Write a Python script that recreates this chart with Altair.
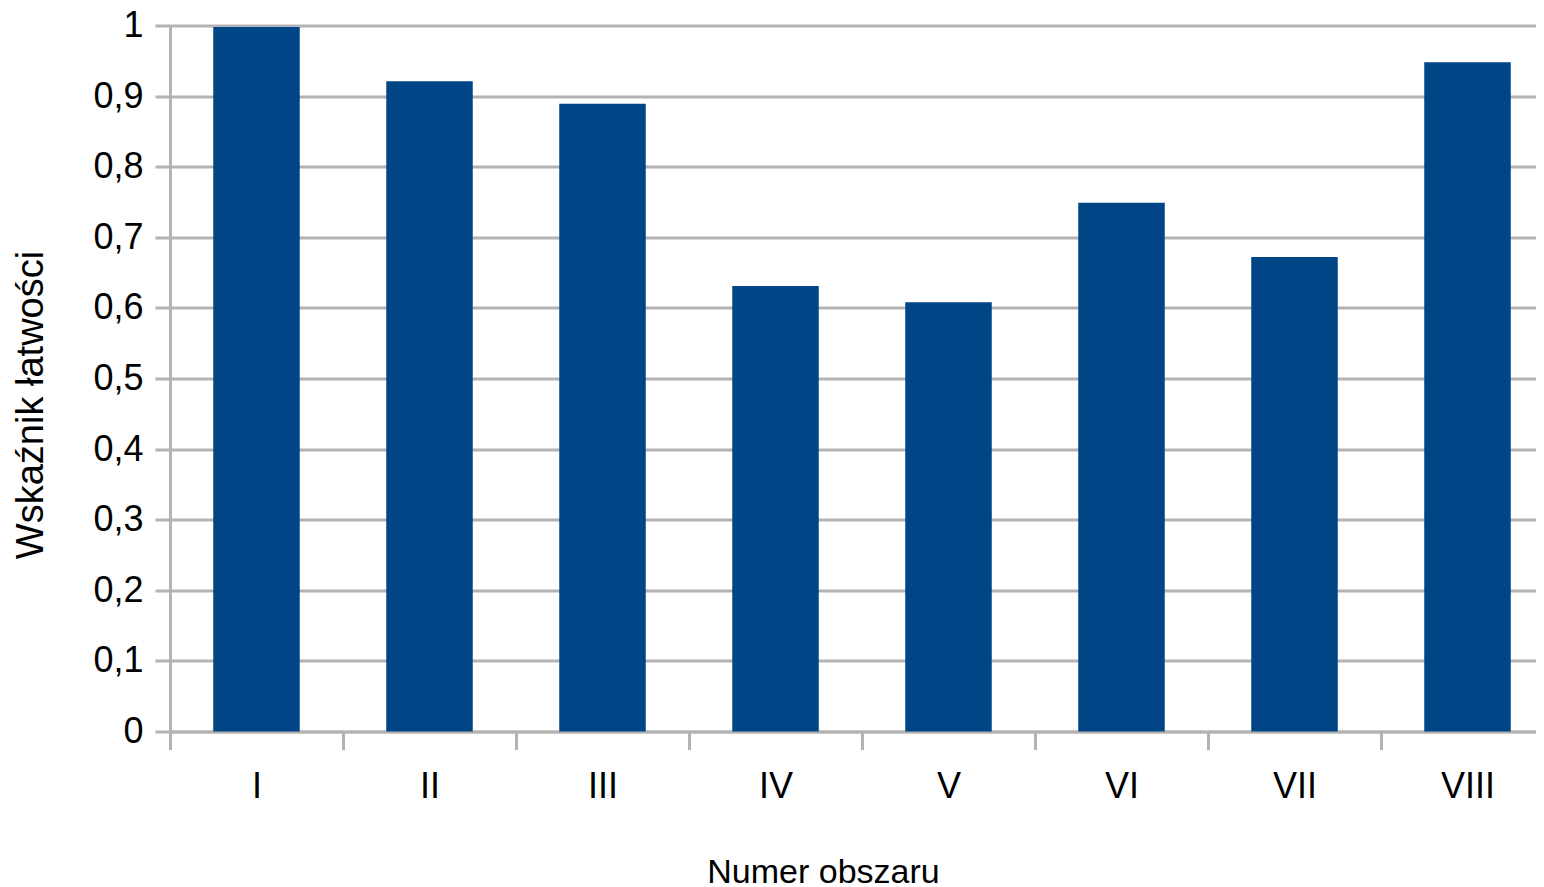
import altair as alt
import pandas as pd

categories = ["I", "II", "III", "IV", "V", "VI", "VII", "VIII"]
values = [0.998, 0.921, 0.889, 0.631, 0.608, 0.749, 0.672, 0.948]
y_ticks = [0, 0.1, 0.2, 0.3, 0.4, 0.5, 0.6, 0.7, 0.8, 0.9, 1]

df = pd.DataFrame({"obszar": categories, "wsk": values})

FONT = "Liberation Sans"
GRID = "#b3b3b3"

chart = alt.Chart(df).mark_bar(
    color="#004586", width=alt.RelativeBandSize(0.5)
).encode(
    x=alt.X(
        "obszar:N",
        sort=categories,
        scale=alt.Scale(paddingInner=0, paddingOuter=0, range=[0, 1384]),
        axis=alt.Axis(
            title="Numer obszaru",
            labelAngle=0,
            tickBand="extent",
            tickSize=18,
            tickWidth=3,
            tickColor=GRID,
            domainColor=GRID,
            domainWidth=3,
            grid=False,
            labelFont=FONT,
            labelFontSize=36,
            labelColor="#000000",
            labelPadding=20,
            titleFont=FONT,
            titleFontSize=34,
            titleFontWeight="normal",
            titleColor="#000000",
            titleAlign="center",
            titleBaseline="alphabetic",
            titleX=653,
            titleY=151,
        ),
    ),
    y=alt.Y(
        "wsk:Q",
        scale=alt.Scale(domain=[0, 1], nice=False),
        axis=alt.Axis(
            title="Wskaźnik łatwości",
            values=y_ticks,
            labelExpr="replace(format(datum.value, '.1~f'), '.', ',')",
            tickSize=15,
            tickWidth=3,
            tickColor=GRID,
            domainColor=GRID,
            domainWidth=3,
            gridColor=GRID,
            gridWidth=3,
            gridOpacity=1,
            labelFont=FONT,
            labelFontSize=36,
            labelColor="#000000",
            labelPadding=12,
            titleFont=FONT,
            titleFontSize=38,
            titleFontWeight="normal",
            titleColor="#000000",
            titleAngle=270,
            titleAlign="center",
            titleBaseline="alphabetic",
            titleX=-128,
            titleY=379,
        ),
    ),
).properties(
    width=1366,
    height=706,
    autosize=alt.AutoSizeParams(type="none"),
    padding={"left": 162, "top": 17.5, "right": 0, "bottom": 155.5},
).configure_view(stroke=None).configure(background="white")

chart.save("out.html", embed_options={"renderer": "svg", "actions": False})
